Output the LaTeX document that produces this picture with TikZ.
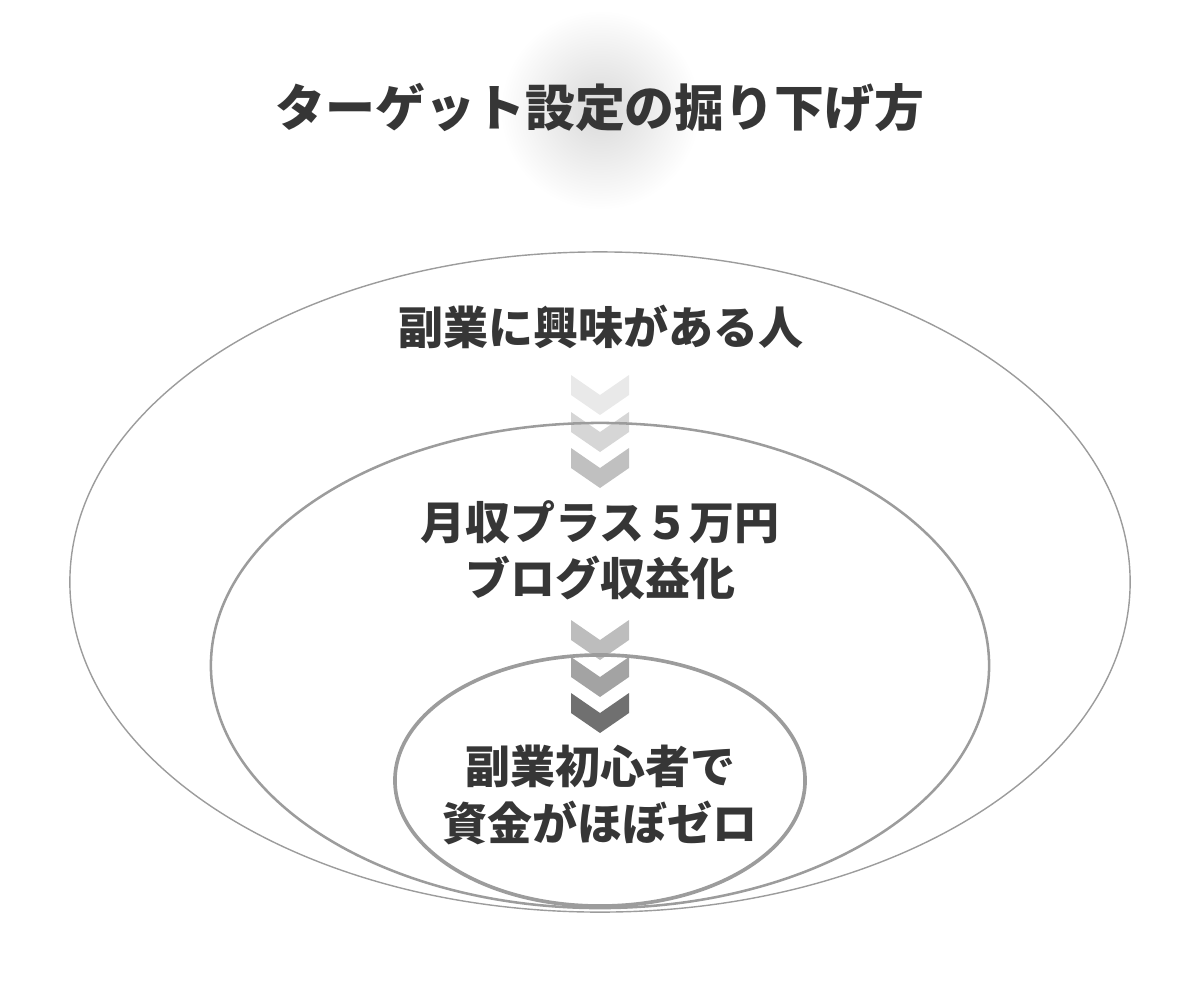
\documentclass[tikz,border=0pt]{standalone}
\usepackage{fontspec}
\setmainfont{Noto Sans CJK JP}
\usetikzlibrary{shapes.geometric}
\definecolor{ringgray}{HTML}{9C9C9C}
\definecolor{inkgray}{HTML}{363636}

\begin{document}
\begin{tikzpicture}[
    x=0.025cm, y=-0.025cm,
    ring/.style={ellipse, draw=ringgray, inner sep=0pt},
    caption/.style={align=center, text=inkgray, font=\fontsize{32}{40}\selectfont\bfseries}
]
\useasboundingbox (0,0) rectangle (1200,1000);

% glow behind the title
\shade[inner color=black!15, outer color=white] (600,110) circle (100);
\node[font=\fontsize{35.5}{40}\selectfont\bfseries, text=inkgray] (title) at (600,108) {ターゲット設定の掘り下げ方};

% chevrons
\foreach \ytop/\shadecol in {375/E9E9E9, 412/D6D6D6, 448/C0C0C0, 620/BDBDBD, 657/A3A3A3, 693/707070} {
  \definecolor{chevfill}{HTML}{\shadecol}
  \fill[chevfill] (571,\ytop) -- (600,\ytop+20) -- (629,\ytop) -- (629,\ytop+20) -- (600,\ytop+40) -- (571,\ytop+20) -- cycle;
}

% rings
\node[ring, line width=1pt, minimum width=26.5cm, minimum height=16.5cm] (outer) at (600,582) {};
\node[ring, line width=1.8pt, minimum width=19.45cm, minimum height=12.125cm] (middle) at (600,665.5) {};
\node[ring, line width=2.6pt, minimum width=10.25cm, minimum height=6.275cm] (inner) at (600,780.5) {};

% texts
\node[caption] (interest) at (601,327) {副業に興味がある人};
\node[caption] (income) at (600,550) {月収プラス５万円\\ブログ収益化};
\node[caption] (beginner) at (600,795) {副業初心者で\\資金がほぼゼロ};
\end{tikzpicture}
\end{document}
